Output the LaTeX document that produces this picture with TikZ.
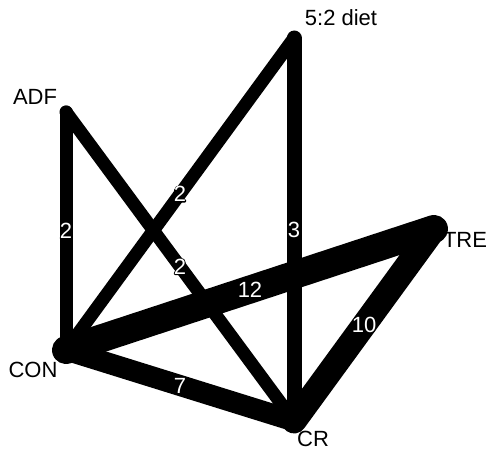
\documentclass[tikz,border=0pt]{standalone}
\usepackage{fontspec}
\setmainfont{Liberation Sans}
% white digits with a thin black rim
\newcommand\rim[1]{\rlap{\special{pdf:literal direct 1 Tr 2 w 0 G}#1\special{pdf:literal direct 0 Tr}}#1}

\begin{document}
\begin{tikzpicture}[x=1pt, y=-1pt, line cap=round, line join=round,
    arm/.style={font=\fontsize{22}{26}\selectfont, inner sep=0pt},
    cnt/.style={midway, text=white, font=\fontsize{22}{26}\selectfont, inner sep=0pt}]
    \useasboundingbox (0,0) rectangle (487,452);
    % treatment arms
    \coordinate (adf) at (66,112);
    \coordinate (fivetwo) at (294,38);
    \coordinate (tre) at (434,229);
    \coordinate (con) at (66,350);
    \coordinate (cr) at (294,421);
    % comparisons, width by number of studies
    \draw[line width=28pt] (con) -- node[cnt] {\rim{12}} (tre);
    \draw[line width=25pt] (tre) -- node[cnt] {\rim{10}} (cr);
    \draw[line width=21pt] (con) -- node[cnt] {\rim{7}} (cr);
    \draw[line width=15pt] (fivetwo) -- node[cnt] {\rim{3}} (cr);
    \draw[line width=13pt] (adf) -- node[cnt] {\rim{2}} (con);
    \draw[line width=13pt] (fivetwo) -- node[cnt] {\rim{2}} (con);
    \draw[line width=13pt] (adf) -- node[cnt] {\rim{2}} (cr);
    % names
    \node[arm] (adftxt) at (35,97) {ADF};
    \node[arm] (fivetwotxt) at (341,18) {5:2 diet};
    \node[arm] (tretxt) at (465,240) {TRE};
    \node[arm] (contxt) at (33,370) {CON};
    \node[arm] (crtxt) at (313,439) {CR};
\end{tikzpicture}
\end{document}
